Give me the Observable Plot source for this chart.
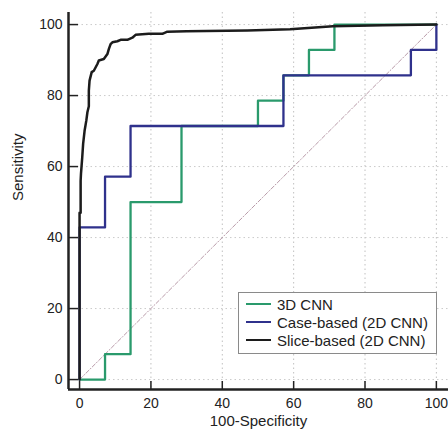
<!DOCTYPE html>
<html>
<head>
<meta charset="utf-8">
<script src="https://cdn.jsdelivr.net/npm/d3@7"></script>
<script src="https://cdn.jsdelivr.net/npm/@observablehq/plot@0.6"></script>
<style>
  html, body { margin: 0; padding: 0; background: #fff; }
  #wrap { position: relative; width: 448px; height: 432px; font-family: "Liberation Sans", Arial, sans-serif; }
  #legend { position: absolute; left: 238px; top: 292px; width: 199px; height: 62px; border: 1px solid #8a8a8a; background: #fff; box-sizing: border-box; padding-top: 2px; }
  .row { display: flex; align-items: center; height: 18px; font-size: 15px; color: #222; }
  .swatch { width: 25px; height: 0; border-top: 2.5px solid; margin-left: 7px; margin-right: 6px; }
</style>
</head>
<body>
<div id="wrap"></div>
<script>
// Tick values
const xTicks = [0, 20, 40, 60, 80, 100];
const yTicks = [0, 20, 40, 60, 80, 100];
const xMin = -3.1, xMax = 103.4;
const yMin = -2.8, yMax = 103.4;

// Axis titles
const xTitle = ["100-Specificity"];
const yTitle = ["Sensitivity"];

// Series names and colours
const seriesNames = ["3D CNN", "Case-based (2D CNN)", "Slice-based (2D CNN)"];
const seriesColors = ["#2a9a6c", "#2f318c", "#1c1c1c"];

// 3D CNN operating points (step curve)
const cnn3dFpr  = [0, 7.14, 14.29, 28.57, 50, 57.14, 64.29, 71.43, 100];
const cnn3dSens = [0, 7.14, 50, 71.43, 78.57, 85.71, 92.86, 100, 100];

// Case-based (2D CNN) operating points (step curve)
const caseFpr  = [0, 0, 7.14, 14.29, 57.14, 92.86, 100];
const caseSens = [0, 42.86, 57.14, 71.43, 85.71, 92.86, 100];

// Slice-based (2D CNN) ROC curve
const sliceFpr  = [0, 0, 0.3, 0.3, 0.4, 0.75, 1.0, 1.4, 1.9, 2.2, 2.6, 2.6, 2.8, 3.4, 4.0, 5.0, 5.4, 6.8, 7.8, 8.2, 8.7, 9.2, 10.6, 11.5, 13.4, 14.8, 15.7, 19.4, 23.2, 24.6, 30, 47, 59, 71, 85, 100];
const sliceSens = [0, 47, 47, 56, 58, 62.6, 66.4, 70, 73, 75.3, 77, 81.4, 84.2, 86.6, 87, 88.9, 89.9, 90.3, 91.7, 93.1, 94.5, 95, 95.3, 95.7, 95.7, 96.3, 97.1, 97.4, 97.4, 98, 98.1, 98.3, 98.7, 99.5, 99.8, 100];

// Chance diagonal
const chanceFpr = [0, 100];
const chanceSens = [0, 100];

const zip = (xs, ys) => xs.map((x, i) => ({x, y: ys[i]}));

const chart = Plot.plot({
  width: 448,
  height: 432,
  marginLeft: 68,
  marginRight: 0,
  marginTop: 12,
  marginBottom: 43,
  style: {fontFamily: "'Liberation Sans', Arial, sans-serif", fontSize: "14px", color: "#222", background: "#fff"},
  x: {domain: [xMin, xMax]},
  y: {domain: [yMin, yMax]},
  marks: [
    Plot.gridX(xTicks.filter(d => d > 0), {stroke: "#c0c0c0", strokeOpacity: 1, strokeDasharray: "1.5,3"}),
    Plot.gridY(yTicks, {stroke: "#cacaca", strokeOpacity: 1, strokeDasharray: "1.5,3"}),
    Plot.line(zip(chanceFpr, chanceSens), {x: "x", y: "y", stroke: "#b89aa8", strokeWidth: 1, strokeDasharray: "4,2,1,2"}),
    Plot.line(zip(cnn3dFpr, cnn3dSens), {x: "x", y: "y", curve: "step-after", stroke: seriesColors[0], strokeWidth: 2.3}),
    Plot.line(zip(caseFpr, caseSens), {x: "x", y: "y", curve: "step-after", stroke: seriesColors[1], strokeWidth: 2.3}),
    Plot.line(zip(sliceFpr, sliceSens), {x: "x", y: "y", stroke: seriesColors[2], strokeWidth: 2.5}),
    // inward tick marks
    Plot.ruleX(xTicks, {stroke: "#222", strokeWidth: 1.5, insetTop: 369}),
    Plot.ruleY(yTicks, {stroke: "#222", strokeWidth: 1.5, insetRight: 370}),
    // axis lines
    Plot.ruleX([xMin], {stroke: "#222", strokeWidth: 2.5}),
    Plot.ruleY([yMin], {stroke: "#222", strokeWidth: 2.5}),
    Plot.axisX(xTicks, {tickSize: 0, tickPadding: 9, label: null, fontSize: 14}),
    Plot.axisY(yTicks, {tickSize: 0, tickPadding: 6, label: null, fontSize: 14}),
    Plot.text(xTitle, {text: d => d, frameAnchor: "bottom", dy: 36, fontSize: 15, fill: "#222"}),
    Plot.text(yTitle, {text: d => d, frameAnchor: "left", rotate: -90, dx: -50, fontSize: 15, fill: "#222"})
  ]
});

const wrap = document.getElementById("wrap");
wrap.appendChild(chart);

const legend = document.createElement("div");
legend.id = "legend";
seriesNames.forEach((name, i) => {
  const row = document.createElement("div");
  row.className = "row";
  const sw = document.createElement("span");
  sw.className = "swatch";
  sw.style.borderTopColor = seriesColors[i];
  const tx = document.createElement("span");
  tx.textContent = name;
  row.appendChild(sw);
  row.appendChild(tx);
  legend.appendChild(row);
});
wrap.appendChild(legend);
</script>
</body>
</html>
